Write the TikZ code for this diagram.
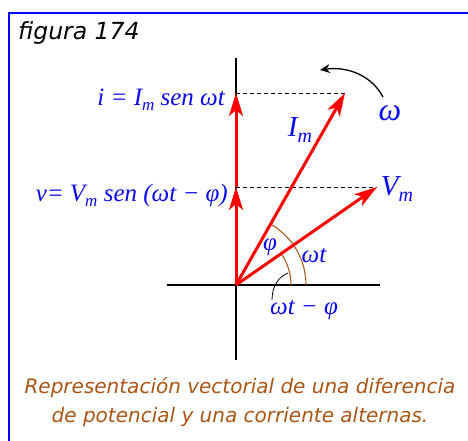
\documentclass[tikz,border=0pt]{standalone}
\usepackage{fontspec}
\setmainfont{DejaVu Sans}
\newfontfamily\tms{Liberation Serif}
\usetikzlibrary{arrows.meta,calc}
\definecolor{lblblue}{RGB}{10,10,240}
\definecolor{arcbrown}{RGB}{170,90,30}
\definecolor{capbrown}{RGB}{170,85,20}
\newcommand{\sbm}{\raisebox{-0.2em}{\fontsize{17}{17}\selectfont m}}
\newcommand{\sbmbig}{\raisebox{-0.2em}{\fontsize{20}{20}\selectfont m}}
\begin{document}
\begin{tikzpicture}[x=1pt,y=1pt,
  vec/.style={red,line width=3pt,-{Stealth[length=23pt,width=14pt,inset=6pt]}},
  axis/.style={black,line width=1.1pt},
  proj/.style={black,line width=0.8pt,dash pattern=on 4pt off 3pt},
  angarc/.style={arcbrown,line width=1.1pt},
  mlabel/.style={lblblue,font=\tms\itshape\fontsize{25}{27}\selectfont,inner sep=0pt},
  captxt/.style={capbrown,font=\itshape\fontsize{20}{29}\selectfont,align=center,inner sep=0pt}]
\useasboundingbox (0,0) rectangle (468,-441);
% frame
\draw[blue,line width=2.2pt] (9,-441) -- (9,-13) -- (468,-13);
\node[anchor=west,inner sep=0pt,font=\itshape\fontsize{23.5}{25}\selectfont] (fig) at (18,-33) {figura 174};
% points
\coordinate (O) at (236,-285);
\coordinate (Itip) at (345,-93);
\coordinate (Vtip) at (377,-187);
\coordinate (iproj) at (236,-93);
\coordinate (vproj) at (236,-187);
\coordinate (axT) at (236,-58);
\coordinate (axB) at (236,-360);
\coordinate (axL) at (167,-285);
\coordinate (axR) at (380,-285);
% axes
\draw[axis] (axB) -- (axT);
\draw[axis] (axL) -- (axR);
% projections
\draw[proj] (iproj) -- (Itip);
\draw[proj] (vproj) -- (Vtip);
% angle arcs
\draw[angarc] ($(O)+(70,0)$) arc[start angle=0,end angle=60.4,radius=70];
\draw[angarc] ($(O)+(55,0)$) arc[start angle=0,end angle=34.8,radius=55];
% vectors
\draw[vec] (O) -- (Itip);
\draw[vec] (O) -- (Vtip);
\draw[vec] (O) -- (vproj);
\draw[vec] (vproj) -- (iproj);
% rotation arrow
\coordinate (wA) at (383,-97);
\coordinate (wB) at (320,-70);
\draw[black,line width=1.3pt,-{Stealth[length=10pt,width=9pt,inset=3.5pt]}] (wA) .. controls (372,-76) and (348,-66) .. (wB);
% pointer curve
\coordinate (pA) at (272,-300);
\coordinate (pB) at (288,-273);
\draw[black,line width=0.8pt] (pA) .. controls (272,-287) and (278,-277) .. (pB);
% labels
\node[mlabel,anchor=east] (ilab) at (225,-100) {i = I\sbm{} sen ωt};
\node[mlabel,anchor=east] (vlab) at (228,-195) {v= V\sbm{} sen (ωt − φ)};
\node[mlabel,font=\tms\itshape\fontsize{29}{31}\selectfont] (Imlab) at (300,-130) {I\sbmbig};
\node[mlabel,font=\tms\itshape\fontsize{29}{31}\selectfont] (Vmlab) at (397,-189) {V\sbmbig};
\node[mlabel,font=\tms\itshape\fontsize{32}{34}\selectfont] (wlab) at (390,-113) {ω};
\node[mlabel] (phlab) at (270,-247) {φ};
\node[mlabel] (wtlab) at (314,-256) {ωt};
\node[mlabel] (wtplab) at (304,-310) {ωt − φ};
\node[captxt] (cap1) at (240,-388) {Representación vectorial de una diferencia};
\node[captxt] (cap2) at (240,-417) {de potencial y una corriente alternas.};
\end{tikzpicture}
\end{document}
